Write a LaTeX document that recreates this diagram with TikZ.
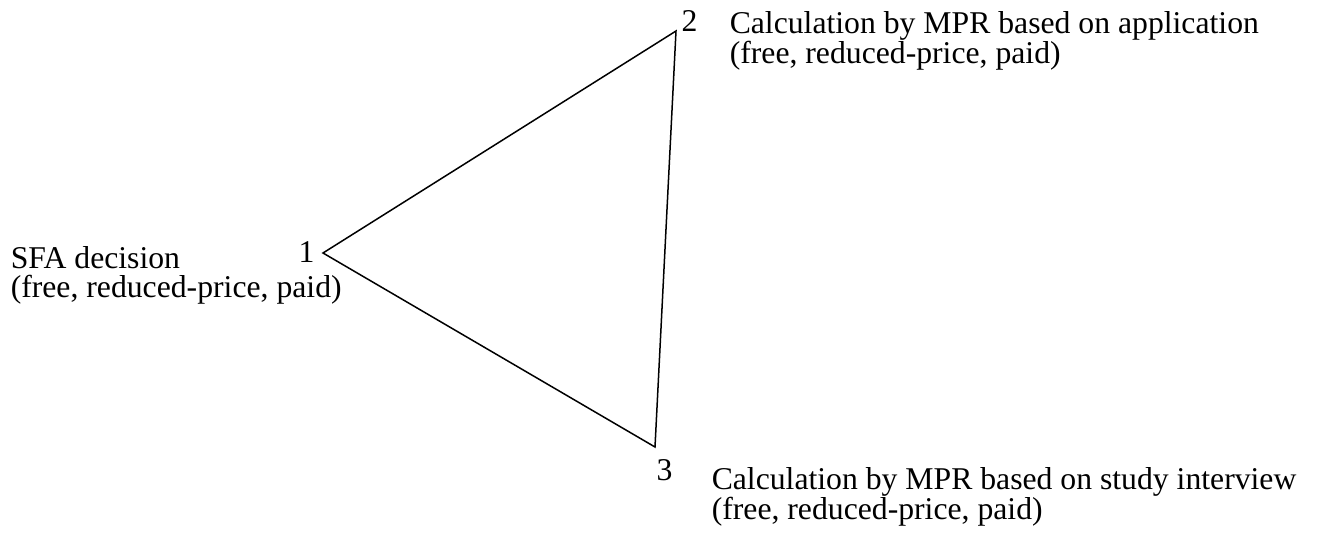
\documentclass[tikz,border=0pt]{standalone}
\usepackage{fontspec}
\setmainfont{Liberation Serif}
\usepackage{tikz}
\usetikzlibrary{positioning}
\def\labelSize{31.7}
\def\labelSkip{29}

\begin{document}
\begin{tikzpicture}[
    x=1pt, y=-1pt,
    line width=1.5pt,
    every node/.style={inner sep=0pt, font=\fontsize{\labelSize}{\labelSkip}\selectfont},
    vertex/.style={anchor=base},
    caption/.style={anchor=north west, align=left}
]
\useasboundingbox (0,0) rectangle (1317,537);
% corners of the triangle
\coordinate (1) at (323,253);
\coordinate (2) at (676,31);
\coordinate (3) at (655,447);
\draw[line join=miter] (1) -- (2) -- (3) -- cycle;

\node[vertex] (n1) at (306.5,263) {1};
\node[vertex] (n2) at (689.5,32) {2};
\node[vertex] (n3) at (664.5,480) {3};

\node[caption] (sfa) at (10,246) {SFA decision\\(free, reduced-price, paid)};
\node[caption] (app) at (729,11) {Calculation by MPR based on application\\(free, reduced-price, paid)};
\node[caption] (study) at (711,467) {Calculation by MPR based on study interview\\(free, reduced-price, paid)};
\end{tikzpicture}
\end{document}
